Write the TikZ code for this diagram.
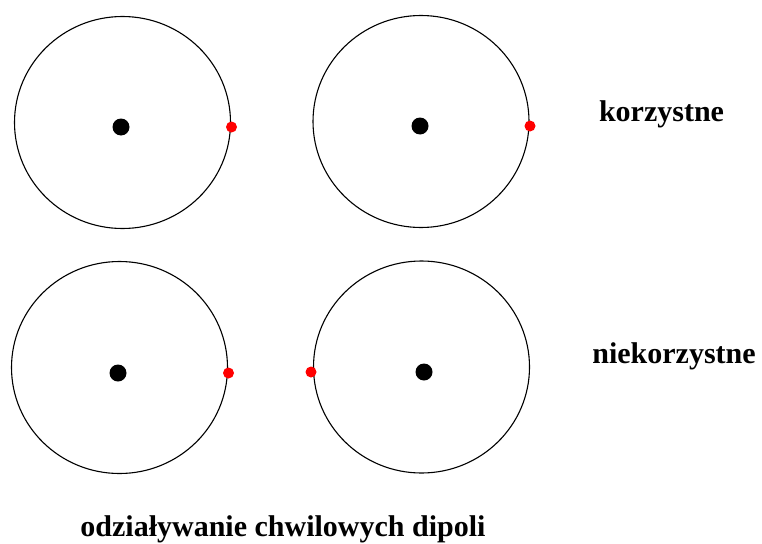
\documentclass[tikz,border=0pt]{standalone}
\usepackage{fontspec}
\setmainfont{Liberation Serif}
\usepackage{xcolor}
\usepackage{tikz}
\usetikzlibrary{shapes.geometric}

\begin{document}
\begin{tikzpicture}[
  x=1pt, y=-1pt,
  atom/.style={ellipse, draw, line width=1.1pt, minimum width=216pt, minimum height=212pt, inner sep=0pt},
  nucleus/.style={circle, fill=black, minimum size=17pt, inner sep=0pt},
  charge/.style={circle, fill=red, minimum size=11pt, inner sep=0pt},
  lbl/.style={anchor=base, font=\bfseries\fontsize{30}{36}\selectfont}
]
  \useasboundingbox (0,0) rectangle (762,543);

  % favourable arrangement
  \node[atom] (a1) at (122.5,122.5) {};
  \node[nucleus] (n1) at (121,127) {};
  \node[charge] (e1) at (231.5,127) {};
  \node[atom] (a2) at (421,121.5) {};
  \node[nucleus] (n2) at (420,126) {};
  \node[charge] (e2) at (530,126) {};

  % unfavourable arrangement
  \node[atom] (a3) at (119.5,367.5) {};
  \node[nucleus] (n3) at (118,373) {};
  \node[charge] (e3) at (228.5,373) {};
  \node[atom] (a4) at (421.5,367) {};
  \node[nucleus] (n4) at (424,372) {};
  \node[charge] (e4) at (311,372) {};

  \node[lbl] (good) at (661.5,121) {korzystne};
  \node[lbl] (bad) at (674,363) {niekorzystne};
  \node[lbl] (title) at (283,536) {odziaływanie chwilowych dipoli};
\end{tikzpicture}
\end{document}
